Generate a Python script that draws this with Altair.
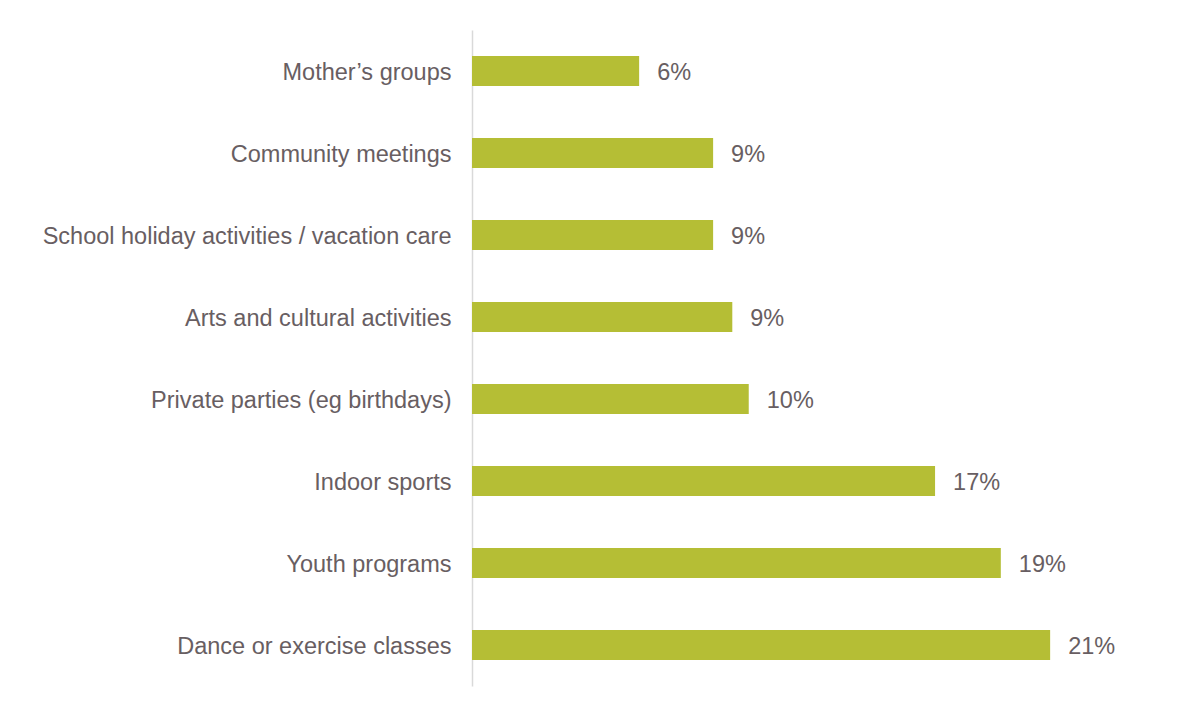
import altair as alt
import pandas as pd

categories = [
    "Mother\u2019s groups",
    "Community meetings",
    "School holiday activities / vacation care ",
    "Arts and cultural activities",
    "Private parties (eg birthdays)",
    "Indoor sports",
    "Youth programs",
    "Dance or exercise classes",
]
values = [0.061, 0.088, 0.088, 0.095, 0.101, 0.169, 0.193, 0.211]
labels = ["6%", "9%", "9%", "9%", "10%", "17%", "19%", "21%"]

df = pd.DataFrame({"cat": categories, "val": values, "lab": labels})

TEXT = "#685E62"
FONT = "Liberation Sans"
FS = 23.5

y_enc = alt.Y(
    "cat:N",
    sort=categories,
    scale=alt.Scale(paddingInner=0.634, paddingOuter=0.317),
    axis=alt.Axis(
        title=None,
        ticks=False,
        domain=True,
        domainColor="#D9D9D9",
        domainWidth=1.5,
        labelPadding=21,
        labelOffset=1.5,
        labelFontSize=FS,
        labelColor=TEXT,
        labelFont=FONT,
        labelLimit=0,
    ),
)
x_enc = alt.X(
    "val:Q",
    scale=alt.Scale(domain=[0, 0.25], nice=False),
    axis=None,
)

bars = alt.Chart(df).mark_bar(color="#B5BE35").encode(x=x_enc, y=y_enc)
text = alt.Chart(df).mark_text(
    align="left", baseline="middle", dx=18, dy=1.5, fontSize=FS, color=TEXT, font=FONT
).encode(x=x_enc, y=y_enc, text="lab:N")

chart = (
    alt.layer(bars, text)
    .properties(
        width=685,
        height=656,
        padding={"left": 464, "top": 22, "right": 20, "bottom": 10},
        autosize=alt.AutoSizeParams(type="none"),
        background="white",
    )
    .configure_view(stroke=None)
)

chart.save("out.html", embed_options={"renderer": "svg", "actions": False})
